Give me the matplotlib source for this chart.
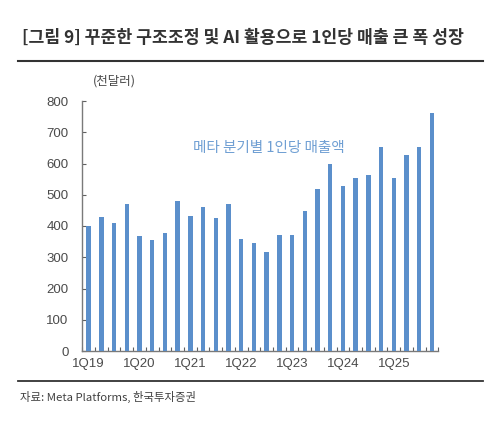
import matplotlib
matplotlib.use("Agg")
import matplotlib.pyplot as plt
import numpy as np

plt.rcParams['font.family'] = ['Noto Sans CJK KR', 'DejaVu Sans']

quarters = [f"{q}Q{y}" for y in range(19, 26) for q in range(1, 5)]
revenue_per_employee = [399, 428, 411, 470, 368, 356, 379, 481,
                        432, 460, 427, 469, 360, 345, 318, 372,
                        371, 449, 517, 597, 529, 553, 562, 654,
                        553, 627, 654, 762]
tick_labels = ["1Q19", "1Q20", "1Q21", "1Q22", "1Q23", "1Q24", "1Q25"]
yticks = [0, 100, 200, 300, 400, 500, 600, 700, 800]

title = "[그림 9] 꾸준한 구조조정 및 AI 활용으로 1인당 매출 큰 폭 성장"
unit = "(천달러)"
series_label = "메타 분기별 1인당 매출액"
source = "자료: Meta Platforms, 한국투자증권"

W, H = 500, 425
fig = plt.figure(figsize=(W / 100, H / 100), dpi=100)
fig.patch.set_facecolor("white")

ax = fig.add_axes([82.3 / W, 1 - 351 / H, 356 / W, 250 / H])
x = np.arange(len(quarters))
ax.bar(x, revenue_per_employee, width=0.34, color="#5b8fcb", zorder=3)

ax.set_xlim(-0.5, len(quarters) - 0.5)
ax.set_ylim(0, 800)
ax.set_yticks(yticks)
ax.set_yticklabels([str(v) for v in yticks], family=['Liberation Sans', 'DejaVu Sans'],
                   fontsize=9.5, color="#4a4a4a")
tick_pos = [quarters.index(t) for t in tick_labels]
ax.set_xticks(tick_pos)
ax.set_xticklabels(tick_labels, family=['Liberation Sans', 'DejaVu Sans'],
                   fontsize=9.5, color="#4a4a4a")
ax.set_xticks(np.arange(-0.5, len(quarters), 1.0), minor=True)
ax.tick_params(axis='x', which='major', length=0, pad=5)
ax.tick_params(axis='x', which='minor', direction='in', length=3, color="#606060", width=0.8)
ax.tick_params(axis='y', direction='in', length=3, color="#606060", width=0.8, pad=10)

for s in ["top", "right"]:
    ax.spines[s].set_visible(False)
for s in ["left", "bottom"]:
    ax.spines[s].set_color("#7a7a7a")
    ax.spines[s].set_linewidth(1.0)

fig.text(93 / W, 1 - 81 / H, unit, fontsize=9, color="#4a4a4a", va="center", ha="left")
fig.text(193 / W, 1 - 148 / H, series_label, fontsize=10.5, color="#6f9fd3",
         va="center", ha="left")

fig.text(22 / W, 1 - 38 / H, title, fontsize=12.4, fontweight="bold", color="#333333",
         va="center", ha="left")
fig.add_artist(plt.Line2D([18 / W, 483 / W], [1 - 61 / H, 1 - 61 / H],
                          color="#333333", linewidth=1.5, transform=fig.transFigure))
fig.add_artist(plt.Line2D([18 / W, 483 / W], [1 - 381 / H, 1 - 381 / H],
                          color="#333333", linewidth=1.3, transform=fig.transFigure))
fig.text(20 / W, 1 - 397 / H, source, fontsize=8.2, color="#404040", va="center", ha="left")

fig.savefig("out.png", dpi=100)
